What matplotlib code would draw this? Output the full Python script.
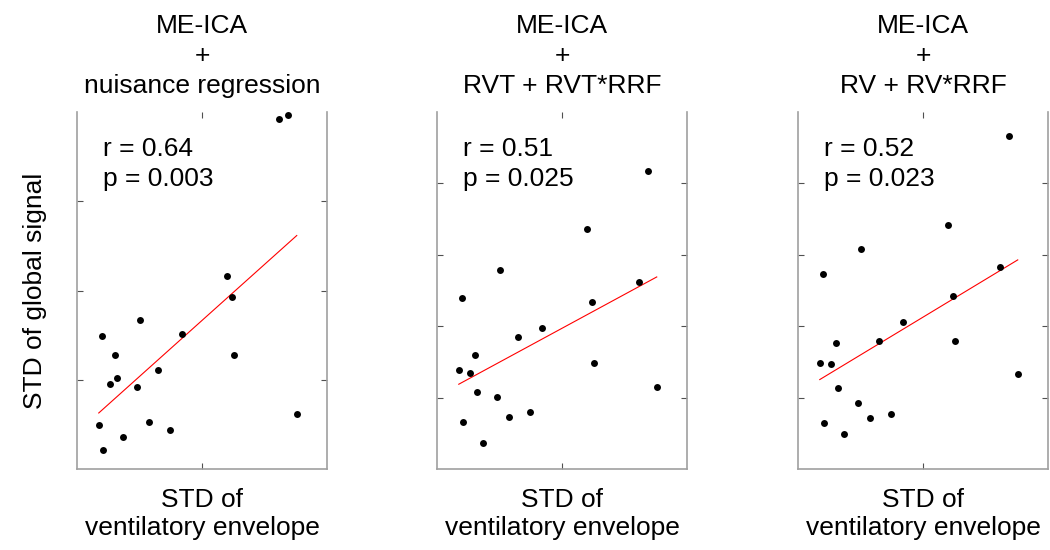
import numpy as np
import matplotlib
matplotlib.use("Agg")
import matplotlib.pyplot as plt

plt.rcParams['font.family'] = ['Liberation Sans', 'DejaVu Sans']

# shared x: STD of ventilatory envelope (arbitrary units)
vent_std = [0.174, 0.199, 0.209, 0.267, 0.302, 0.322, 0.366, 0.478, 0.506, 0.575,
            0.645, 0.746, 0.841, 1.203, 1.237, 1.258, 1.618, 1.686, 1.758]

gs_nuisance = [0.490, 1.487, 0.213, 0.956, 1.274, 1.023, 0.362, 0.915, 1.666, 0.530,
               1.109, 0.440, 1.509, 2.166, 1.924, 1.274, 3.918, 3.966, 0.616]
gs_rvt = [1.382, 2.391, 0.662, 1.349, 1.592, 1.078, 0.364, 1.008, 2.791, 0.728,
          1.853, 0.798, 1.975, 3.357, 2.335, 1.480, 2.615, 4.169, 1.144]
gs_rv = [1.480, 2.731, 0.648, 1.471, 1.761, 1.139, 0.490, 0.929, 3.077, 0.714,
         1.797, 0.770, 2.063, 3.413, 2.427, 1.793, 2.825, 4.664, 1.335]

titles = ["ME-ICA\n+\nnuisance regression", "ME-ICA\n+\nRVT + RVT*RRF", "ME-ICA\n+\nRV + RV*RRF"]
stats_r = ["r = 0.64", "r = 0.51", "r = 0.52"]
stats_p = ["p = 0.003", "p = 0.025", "p = 0.023"]
ylims = [4, 5, 5]
series = [gs_nuisance, gs_rvt, gs_rv]

fig = plt.figure(figsize=(10.5, 5.5), dpi=100)
lefts = [77 / 1050, 437 / 1050, 798 / 1050]
w = 250 / 1050
b = (550 - 469) / 550
h = 357 / 550
FS = 19
spine_c = '#a0a0a0'

x = np.array(vent_std)
for i, (lft, ys) in enumerate(zip(lefts, series)):
    ax = fig.add_axes([lft, b, w, h])
    y = np.array(ys)
    ax.plot(x, y, 'o', color='black', markersize=5, markeredgewidth=0, zorder=3)
    k, c0 = np.polyfit(x, y, 1)
    xl = np.array([x.min(), x.max()])
    ax.plot(xl, k * xl + c0, color='red', lw=0.8, zorder=2)
    ax.set_xlim(0, 2)
    ax.set_ylim(0, ylims[i])
    ax.set_xticks([1])
    ax.set_yticks(list(range(1, ylims[i])))
    ax.set_xticklabels([])
    ax.set_yticklabels([])
    ax.tick_params(direction='in', length=4, width=0.8, color='#505050',
                   top=True, right=True)
    ax.spines['top'].set_visible(False)
    for s in ['left', 'right', 'bottom']:
        ax.spines[s].set_color(spine_c)
        ax.spines[s].set_linewidth(1.2)
    ax.set_title(titles[i], fontsize=FS, linespacing=1.3, pad=14)
    ax.set_xlabel("STD of\nventilatory envelope", fontsize=FS, linespacing=1.2, labelpad=10)
    if i == 0:
        ax.set_ylabel("STD of global signal", fontsize=FS, labelpad=18)
    ax.text(0.105, 0.877, stats_r[i], transform=ax.transAxes, fontsize=FS,
            ha='left', va='baseline')
    ax.text(0.105, 0.793, stats_p[i], transform=ax.transAxes, fontsize=FS,
            ha='left', va='baseline')

fig.savefig("out.png", dpi=100)
